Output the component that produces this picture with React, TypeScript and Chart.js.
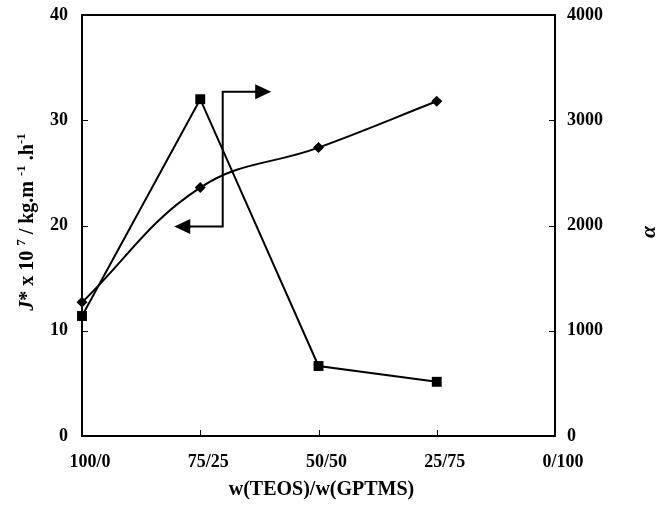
import React, { useEffect, useRef } from "react";
import { Chart, registerables } from "chart.js";

Chart.register(...registerables);

const categories = ["100/0", "75/25", "50/50", "25/75", "0/100"];
const fluxValues = [12.7, 23.6, 27.4, 31.8, null];
const alphaValues = [1140, 3200, 665, 515, null];
const leftTicks = [0, 10, 20, 30, 40];
const rightTicks = [0, 1000, 2000, 3000, 4000];

// annotation arrows, in data units (x: category index, y: left axis)
const arrowStemX = 1.19;
const arrowTopY = 32.7;
const arrowBottomY = 19.9;
const arrowRightTipX = 1.6;
const arrowLeftTipX = 0.78;

const SERIF = '"Liberation Serif", "Times New Roman", serif';

const decorPlugin = {
  id: "decor",
  beforeDatasetsDraw(chart: any) {
    const { ctx, chartArea } = chart;
    const { left, right, top, bottom } = chartArea;
    ctx.save();
    ctx.strokeStyle = "#000";
    ctx.lineWidth = 2;
    ctx.strokeRect(left, top, right - left, bottom - top);
    ctx.lineWidth = 1;
    const y = chart.scales.y;
    const y1 = chart.scales.y1;
    const x = chart.scales.x;
    ctx.beginPath();
    leftTicks.slice(1, -1).forEach((v) => {
      const p = Math.round(y.getPixelForValue(v)) + 0.5;
      ctx.moveTo(left, p);
      ctx.lineTo(left + 6, p);
    });
    rightTicks.slice(1, -1).forEach((v) => {
      const p = Math.round(y1.getPixelForValue(v)) + 0.5;
      ctx.moveTo(right, p);
      ctx.lineTo(right - 6, p);
    });
    for (let i = 1; i < categories.length - 1; i++) {
      const p = Math.round(x.getPixelForValue(i)) + 0.5;
      ctx.moveTo(p, bottom);
      ctx.lineTo(p, bottom - 6);
    }
    ctx.stroke();
    ctx.restore();
  },
  afterDatasetsDraw(chart: any) {
    const { ctx } = chart;
    const x = chart.scales.x;
    const y = chart.scales.y;
    const sx = x.getPixelForValue(arrowStemX);
    const ty = y.getPixelForValue(arrowTopY);
    const by = y.getPixelForValue(arrowBottomY);
    const rx = x.getPixelForValue(arrowRightTipX);
    const lx = x.getPixelForValue(arrowLeftTipX);
    ctx.save();
    ctx.strokeStyle = "#000";
    ctx.fillStyle = "#000";
    ctx.lineWidth = 2;
    ctx.beginPath();
    ctx.moveTo(rx - 14, ty);
    ctx.lineTo(sx, ty);
    ctx.lineTo(sx, by);
    ctx.lineTo(lx + 14, by);
    ctx.stroke();
    ctx.beginPath();
    ctx.moveTo(rx, ty);
    ctx.lineTo(rx - 16, ty - 7.5);
    ctx.lineTo(rx - 16, ty + 7.5);
    ctx.closePath();
    ctx.fill();
    ctx.beginPath();
    ctx.moveTo(lx, by);
    ctx.lineTo(lx + 16, by - 7.5);
    ctx.lineTo(lx + 16, by + 7.5);
    ctx.closePath();
    ctx.fill();
    ctx.restore();
  },
  afterDraw(chart: any) {
    const { ctx, chartArea } = chart;
    ctx.save();
    ctx.fillStyle = "#000";
    // x axis title
    ctx.font = `bold 20px ${SERIF}`;
    ctx.textAlign = "center";
    ctx.textBaseline = "alphabetic";
    ctx.fillText("w(TEOS)/w(GPTMS)", (chartArea.left + chartArea.right) / 2 + 3, 495);

    // left axis title, rotated
    const big = 20;
    const small = 13;
    const pieces = [
      { t: "J", f: `italic bold ${big}px ${SERIF}`, dy: 0 },
      { t: "* x 10 ", f: `bold ${big}px ${SERIF}`, dy: 0 },
      { t: "7", f: `bold ${small}px ${SERIF}`, dy: -8 },
      { t: " / kg.m ", f: `bold ${big}px ${SERIF}`, dy: 0 },
      { t: "-1", f: `bold ${small}px ${SERIF}`, dy: -8 },
      { t: " .h", f: `bold ${big}px ${SERIF}`, dy: 0 },
      { t: "-1", f: `bold ${small}px ${SERIF}`, dy: -8 },
    ];
    let total = 0;
    const widths = pieces.map((p) => {
      ctx.font = p.f;
      const w = ctx.measureText(p.t).width;
      total += w;
      return w;
    });
    ctx.save();
    ctx.translate(33, 222);
    ctx.rotate(-Math.PI / 2);
    ctx.textAlign = "left";
    ctx.textBaseline = "alphabetic";
    let cx = -total / 2;
    pieces.forEach((p, i) => {
      ctx.font = p.f;
      ctx.fillText(p.t, cx, p.dy);
      cx += widths[i];
    });
    ctx.restore();

    // right axis title
    ctx.save();
    ctx.translate(655, 232);
    ctx.rotate(-Math.PI / 2);
    ctx.font = `italic bold 22px ${SERIF}`;
    ctx.textAlign = "center";
    ctx.textBaseline = "alphabetic";
    ctx.fillText("\u03b1", 0, 0);
    ctx.restore();
    ctx.restore();
  },
};

export default function App() {
  const ref = useRef<HTMLCanvasElement | null>(null);
  useEffect(() => {
    if (!ref.current) return;
    const tickFont = { family: SERIF, size: 18, weight: "bold" as const };
    const plain = (v: any) => String(v);
    const chart = new Chart(ref.current, {
      type: "line",
      data: {
        labels: categories,
        datasets: [
          {
            label: "J*",
            data: fluxValues,
            yAxisID: "y",
            borderColor: "#000",
            backgroundColor: "#000",
            borderWidth: 2,
            tension: 0.4,
            pointStyle: "rectRot",
            pointRadius: 5.5,
            pointBackgroundColor: "#000",
            pointBorderWidth: 0,
            clip: false as any,
          },
          {
            label: "alpha",
            data: alphaValues,
            yAxisID: "y1",
            borderColor: "#000",
            backgroundColor: "#000",
            borderWidth: 2,
            tension: 0,
            pointStyle: "rect",
            pointRadius: 7,
            pointBackgroundColor: "#000",
            pointBorderWidth: 0,
            clip: false as any,
          },
        ],
      },
      options: {
        responsive: false,
        animation: false,
        events: [],
        layout: { padding: { top: 15, left: 0, right: 0, bottom: 0 } },
        plugins: { legend: { display: false }, tooltip: { enabled: false } },
        scales: {
          x: {
            type: "category",
            offset: false,
            grid: { display: false, drawTicks: false },
            border: { display: false },
            ticks: { color: "#000", font: tickFont, padding: 16, labelOffset: 8, maxRotation: 0, autoSkip: false },
            afterFit(scale: any) {
              scale.height = 70;
              scale.paddingLeft = 0;
              scale.paddingRight = 0;
            },
          },
          y: {
            position: "left",
            min: 0,
            max: 40,
            grid: { display: false, drawTicks: false },
            border: { display: false },
            ticks: { color: "#000", font: tickFont, stepSize: 10, padding: 14, callback: plain },
            afterFit(scale: any) {
              scale.width = 82;
              scale.paddingTop = 0;
              scale.paddingBottom = 0;
            },
          },
          y1: {
            position: "right",
            min: 0,
            max: 4000,
            grid: { display: false, drawTicks: false },
            border: { display: false },
            ticks: { color: "#000", font: tickFont, stepSize: 1000, padding: 12, callback: plain },
            afterFit(scale: any) {
              scale.width = 102;
              scale.paddingTop = 0;
              scale.paddingBottom = 0;
            },
          },
        },
      },
      plugins: [decorPlugin],
    });
    return () => chart.destroy();
  }, []);
  return (
    <div style={{ position: "absolute", left: 0, top: 0, width: 657, height: 506, background: "#fff" }}>
      <canvas ref={ref} width={657} height={506} style={{ display: "block" }} />
    </div>
  );
}
